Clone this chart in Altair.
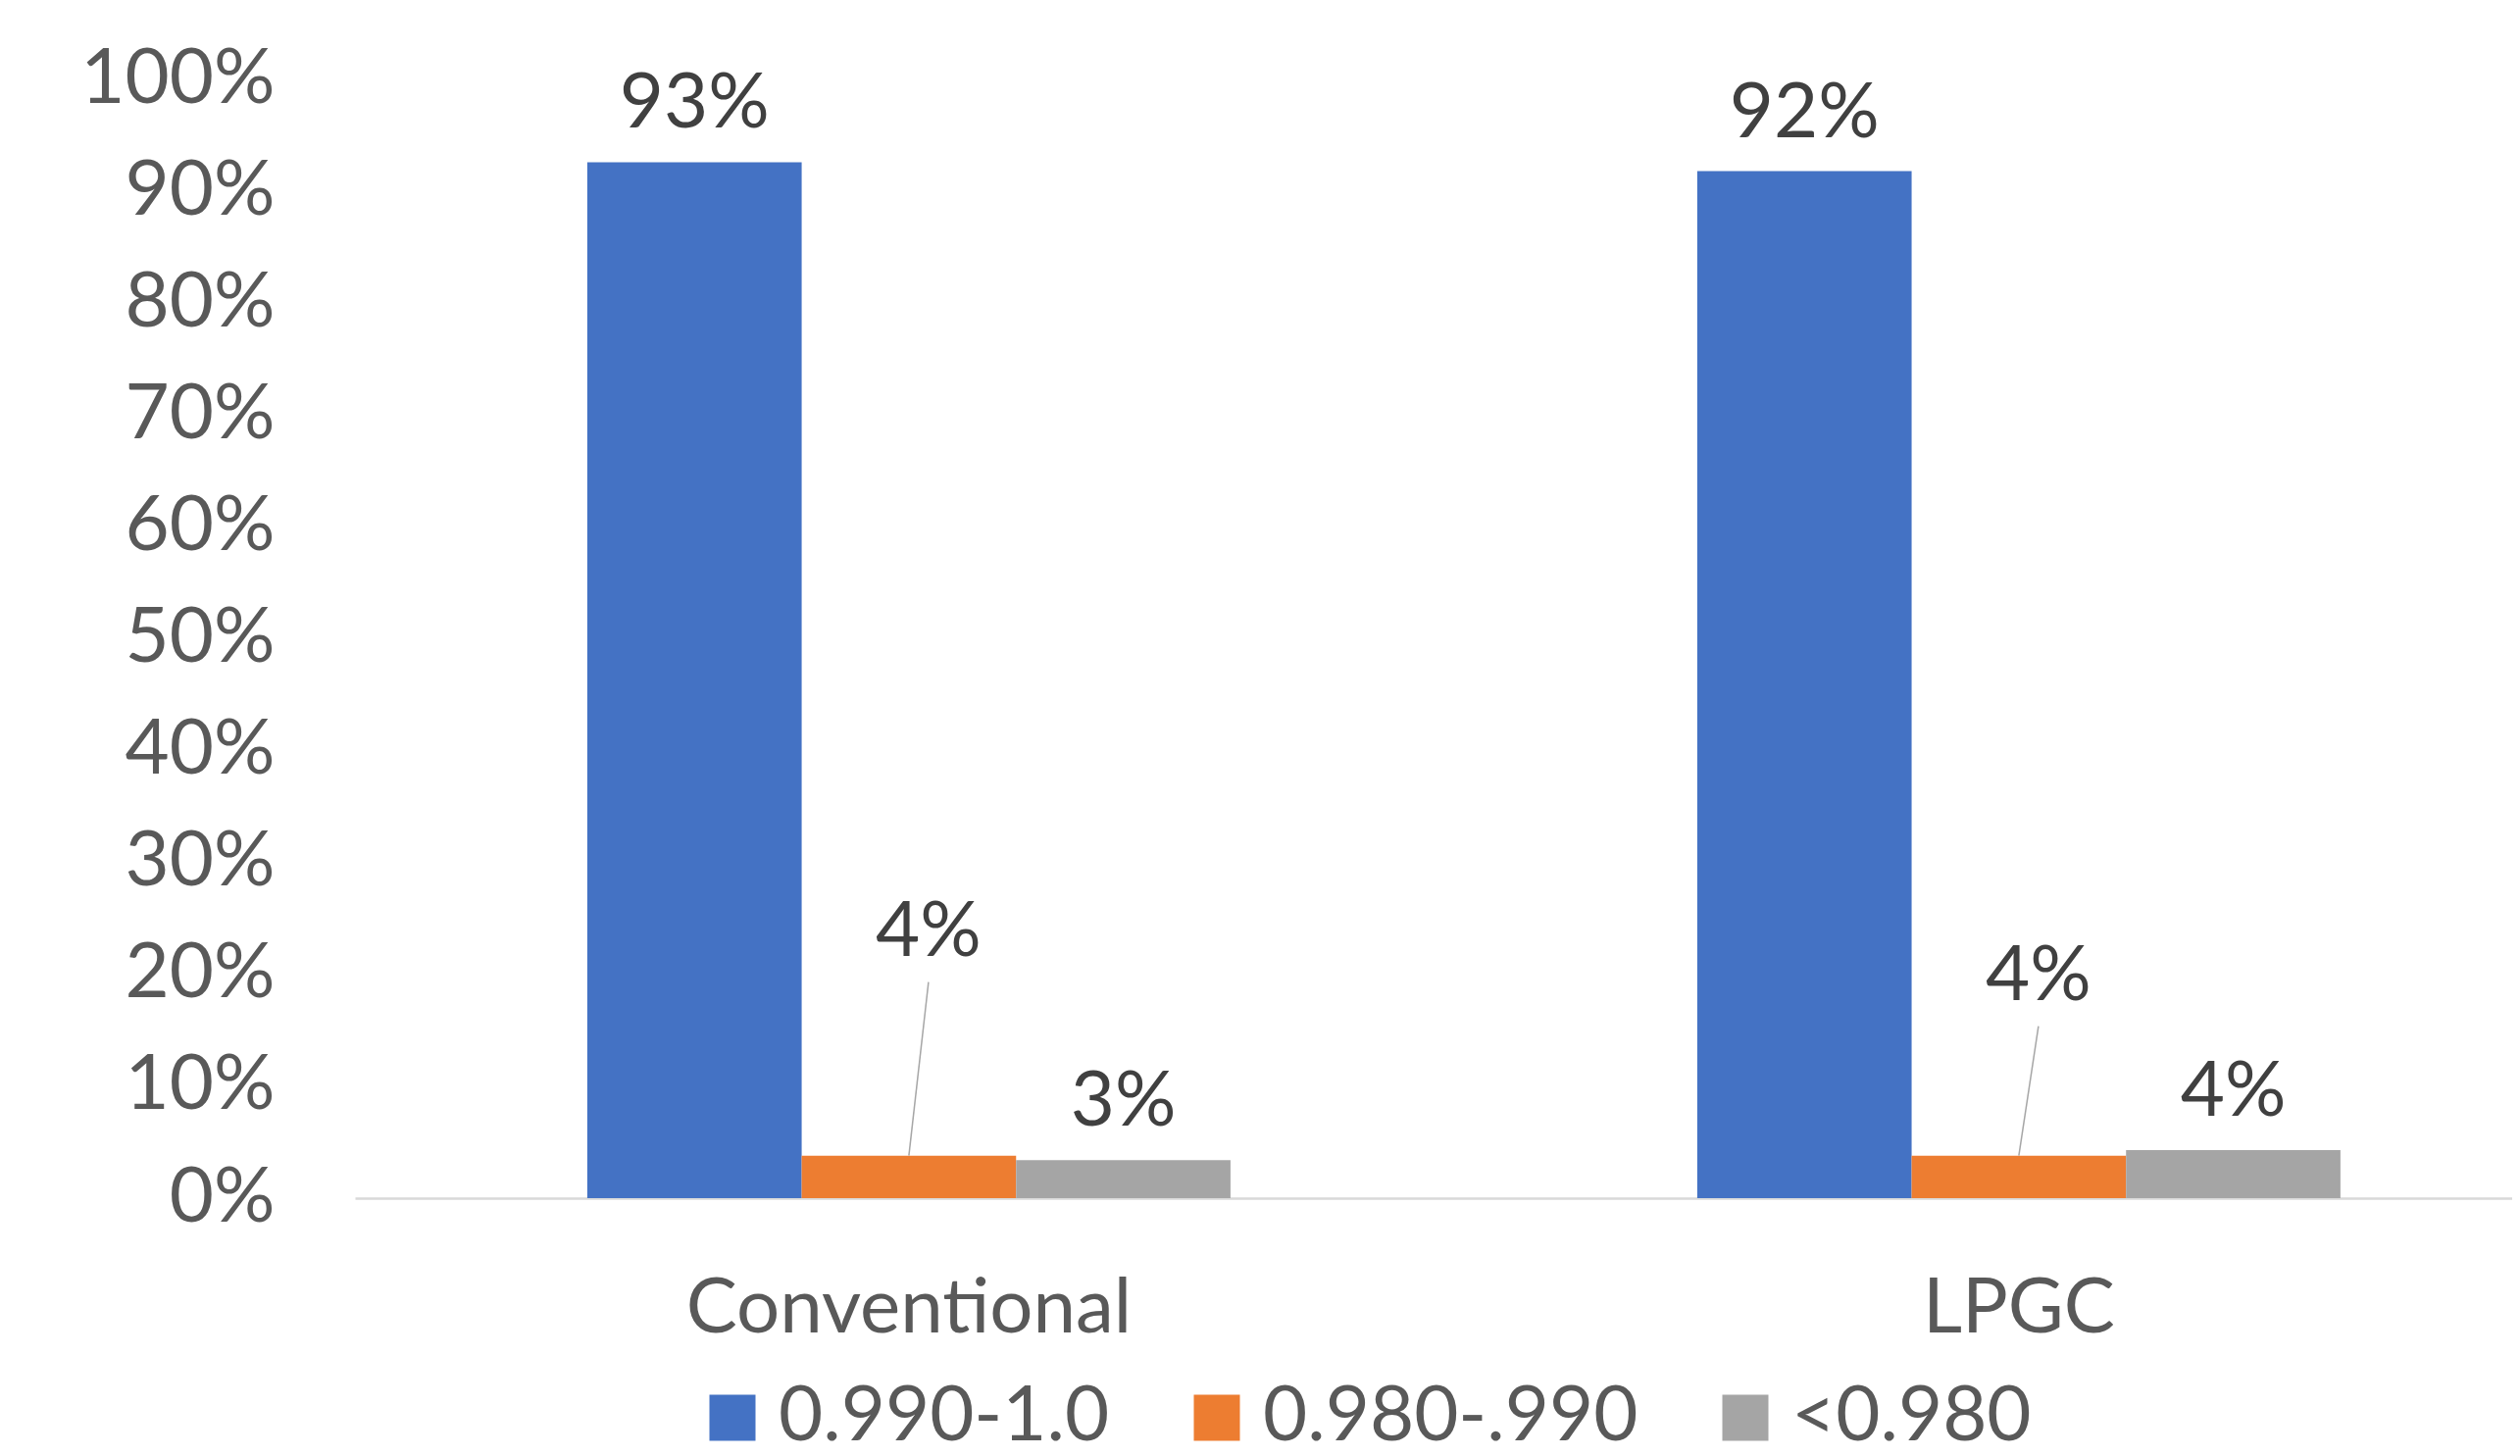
import altair as alt
import pandas as pd

# ---- data ----
CATEGORIES = ["Conventional", "LPGC"]
SERIES = ["0.990-1.0", "0.980-.990", "<0.980"]
COLORS = ["#4472C4", "#ED7D31", "#A5A5A5"]
CONVENTIONAL = [92.6, 3.8, 3.4]
LPGC = [91.8, 3.8, 4.3]
Y_TICKS = [0, 10, 20, 30, 40, 50, 60, 70, 80, 90, 100]

# ---- style constants ----
FONT = "Lato"
FS = 78
AXIS_GRAY = "#595959"
LABEL_DARK = "#404040"
# the orange labels were dragged upward in the original, with leader lines
ORANGE_LIFT = {"Conventional": 204, "LPGC": 159}

rows = []
for cat, vals in zip(CATEGORIES, [CONVENTIONAL, LPGC]):
    for s, v in zip(SERIES, vals):
        rows.append({"category": cat, "series": s, "value": v})
df = pd.DataFrame(rows)

base = alt.Chart(df).transform_calculate(
    label="format(datum.value, '.0f') + '%'"
)

x_scale = alt.Scale(paddingInner=0.4205, paddingOuter=0.182, align=0.575)
x_axis = alt.Axis(
    title=None, labelAngle=0, labelFont=FONT, labelFontSize=FS,
    labelColor=AXIS_GRAY, labelPadding=136, labelBaseline="alphabetic",
    labelLimit=0, ticks=False, tickSize=0, domainColor="#D9D9D9",
    domainWidth=2.5,
)
y_axis = alt.Axis(
    title=None, values=Y_TICKS, labelExpr="datum.value + '%'",
    grid=False, domain=False, ticks=False, tickSize=0, labelPadding=82,
    labelLimit=0, labelFont=FONT, labelFontSize=FS, labelColor=AXIS_GRAY,
)
y_enc = alt.Y("value:Q", scale=alt.Scale(domain=[0, 100]), axis=y_axis)
xo_enc = alt.XOffset("series:N", sort=SERIES,
                     scale=alt.Scale(paddingInner=0, paddingOuter=0))

bars = base.mark_bar(strokeWidth=0).encode(
    x=alt.X("category:N", sort=CATEGORIES, scale=x_scale, axis=x_axis),
    xOffset=xo_enc,
    y=y_enc,
    color=alt.Color(
        "series:N", sort=SERIES,
        scale=alt.Scale(domain=SERIES, range=COLORS),
        legend=alt.Legend(
            title=None, orient="none", legendX=346, legendY=1326,
            direction="horizontal", symbolType="square", symbolSize=2209,
            symbolStrokeWidth=0, labelFont=FONT, labelFontSize=FS,
            labelColor=AXIS_GRAY, labelOffset=8, columnPadding=70,
            labelLimit=0, padding=0,
        ),
    ),
)

plain_labels = base.transform_filter(
    alt.datum.series != SERIES[1]
).mark_text(
    dy=-35, baseline="alphabetic", align="center",
    font=FONT, fontSize=FS, color=LABEL_DARK,
).encode(
    x=alt.X("category:N", sort=CATEGORIES),
    xOffset=xo_enc,
    y="value:Q",
    text="label:N",
)

layers = [bars, plain_labels]
for cat in CATEGORIES:
    lift = ORANGE_LIFT[cat]
    sub = base.transform_filter(
        (alt.datum.series == SERIES[1]) & (alt.datum.category == cat)
    )
    leader = sub.mark_rule(
        color="#A6A6A6", strokeWidth=1.5, x2Offset=20, y2Offset=-(lift - 27)
    ).encode(
        x=alt.X("category:N", sort=CATEGORIES, bandPosition=0.5),
        x2=alt.X2("category:N", bandPosition=0.5),
        y="value:Q",
        y2=alt.Y2("value:Q"),
    )
    lab = sub.mark_text(
        dx=20, dy=-lift, baseline="alphabetic", align="center",
        font=FONT, fontSize=FS, color=LABEL_DARK,
    ).encode(
        x=alt.X("category:N", sort=CATEGORIES, bandPosition=0.5),
        y="value:Q",
        text="label:N",
    )
    layers += [leader, lab]

chart = alt.layer(*layers).properties(
    width=2200,
    height=1141,
    autosize=alt.AutoSizeParams(type="none"),
    padding={"left": 354, "top": 73, "right": 0, "bottom": 256},
    background="white",
).configure_view(stroke=None)

chart.save("out.html", embed_options={"renderer": "svg", "actions": False})
